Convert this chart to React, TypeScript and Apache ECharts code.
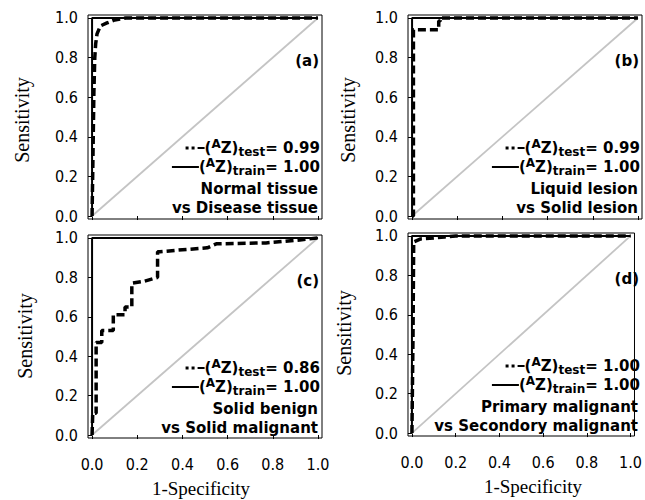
import React, { useEffect, useRef } from "react";
import * as echarts from "echarts";

// ---- data ----
const AXIS_TICKS = [0, 0.2, 0.4, 0.6, 0.8, 1.0];
const DIAG_FPR = [0, 1];
const DIAG_TPR = [0, 1];
const TRAIN_FPR = [0, 0, 1];
const TRAIN_TPR = [0, 1, 1];

const TEST_FPR_A = [0, 0.004, 0.008, 0.012, 0.016, 0.022, 0.037, 0.066, 0.1, 0.15, 1.0];
const TEST_TPR_A = [0, 0.3, 0.62, 0.8, 0.87, 0.92, 0.96, 0.975, 0.99, 1.0, 1.0];

const TEST_FPR_B = [0, 0.006, 0.006, 0.118, 0.118, 0.125, 0.125, 1.0];
const TEST_TPR_B = [0, 0, 0.94, 0.94, 0.985, 0.985, 1.0, 1.0];

const TEST_FPR_C = [0, 0.003, 0.003, 0.018, 0.018, 0.043, 0.043, 0.094, 0.094, 0.146, 0.146, 0.176, 0.176, 0.23, 0.29, 0.29, 0.3, 0.4, 0.51, 0.55, 0.77, 0.92, 1.0];
const TEST_TPR_C = [0, 0, 0.11, 0.11, 0.47, 0.47, 0.53, 0.53, 0.61, 0.61, 0.65, 0.65, 0.77, 0.78, 0.8, 0.93, 0.93, 0.94, 0.95, 0.97, 0.975, 0.99, 1.0];

const TEST_FPR_D = [0, 0.005, 0.008, 0.04, 0.1, 0.15, 0.2, 1.0];
const TEST_TPR_D = [0, 0.5, 0.97, 0.985, 0.99, 0.995, 1.0, 1.0];

const TEST_FPR = [TEST_FPR_A, TEST_FPR_B, TEST_FPR_C, TEST_FPR_D];
const TEST_TPR = [TEST_TPR_A, TEST_TPR_B, TEST_TPR_C, TEST_TPR_D];

const PANEL_LABELS = ["(a)", "(b)", "(c)", "(d)"];
const AZ_TEST = ["0.99", "0.99", "0.86", "1.00"];
const AZ_TRAIN = ["1.00", "1.00", "1.00", "1.00"];
const CLASS_LINE1 = ["Normal tissue", "Liquid lesion", "Solid benign", "Primary malignant"];
const CLASS_LINE2 = ["vs Disease tissue", "vs Solid lesion", "vs Solid malignant", "vs Secondory malignant"];
const X_TITLE = "1-Specificity";
const Y_TITLE = "Sensitivity";

// ---- layout ----
const GRIDS = [
  { left: 88, top: 15, width: 234, height: 204 },
  { left: 408, top: 15, width: 234, height: 204 },
  { left: 88, top: 235, width: 234, height: 203 },
  { left: 408, top: 233, width: 234, height: 203 },
];
const Y_TITLE_POS = [
  [22, 120],
  [348, 120],
  [25, 336],
  [344, 333],
];
const X_TITLE_POS = [
  [201, 488],
  [533, 486],
];

const TICK_FONT = "'Liberation Sans Narrow', 'DejaVu Sans Condensed', 'Roboto Condensed', sans-serif";
const SERIF = "'Liberation Serif', 'DejaVu Serif', serif";
const BOLD_FONT = "'DejaVu Sans', 'Liberation Sans', sans-serif";

const pairs = (xs: number[], ys: number[]) => xs.map((x, i) => [x, ys[i]]);

const richStyles = {
  n: { fontSize: 15, fontWeight: "bold", fontFamily: BOLD_FONT, fill: "#000", lineHeight: 20, verticalAlign: "middle" },
  a: { fontSize: 12, fontWeight: "bold", fontFamily: BOLD_FONT, fill: "#000", lineHeight: 13, verticalAlign: "top" },
  s: { fontSize: 12, fontWeight: "bold", fontFamily: BOLD_FONT, fill: "#000", lineHeight: 13, verticalAlign: "bottom" },
  dot: { width: 3, height: 3, backgroundColor: "#000", verticalAlign: "middle", fontSize: 1, lineHeight: 3 },
  gap: { width: 3, height: 3, fontSize: 1, lineHeight: 3, verticalAlign: "middle" },
  ls: { width: 7, height: 2, backgroundColor: "#000", verticalAlign: "middle", fontSize: 1, lineHeight: 2 },
  ll: { width: 27, height: 2, backgroundColor: "#000", verticalAlign: "middle", fontSize: 1, lineHeight: 2 },
};

export default function App() {
  const ref = useRef<HTMLDivElement>(null);
  useEffect(() => {
    if (!ref.current) return;
    const chart = echarts.init(ref.current, undefined, { renderer: "svg" });

    const grid = GRIDS.map((g) => ({
      ...g,
      show: true,
      borderColor: "#000",
      borderWidth: 1,
      backgroundColor: "transparent",
      containLabel: false,
    }));

    const xAxis = GRIDS.map((_, i) => ({
      type: "value",
      gridIndex: i,
      min: -0.018,
      max: 1.018,
      axisLine: { show: false },
      splitLine: { show: false },
      axisTick: { show: true, customValues: AXIS_TICKS, length: 4, lineStyle: { color: "#000", width: 1 } },
      axisLabel: {
        show: i >= 2,
        customValues: AXIS_TICKS,
        formatter: (v: number) => v.toFixed(1),
        margin: 18,
        fontFamily: TICK_FONT,
        fontSize: 16,
        color: "#000",
      },
    }));

    const yAxis = GRIDS.map((_, i) => ({
      type: "value",
      gridIndex: i,
      min: -0.015,
      max: 1.015,
      axisLine: { show: false },
      splitLine: { show: false },
      axisTick: { show: true, customValues: AXIS_TICKS, length: 4, lineStyle: { color: "#000", width: 1 } },
      axisLabel: {
        show: true,
        customValues: AXIS_TICKS,
        formatter: (v: number) => v.toFixed(1),
        margin: 10,
        fontFamily: TICK_FONT,
        fontSize: 16,
        color: "#000",
      },
    }));

    const series: any[] = [];
    GRIDS.forEach((_, i) => {
      series.push({
        type: "line",
        xAxisIndex: i,
        yAxisIndex: i,
        data: pairs(DIAG_FPR, DIAG_TPR),
        symbol: "none",
        lineStyle: { color: "#c4c4c4", width: 1.8 },
        z: 2,
      });
      series.push({
        type: "line",
        xAxisIndex: i,
        yAxisIndex: i,
        data: pairs(TRAIN_FPR, TRAIN_TPR),
        symbol: "none",
        lineStyle: { color: "#000", width: 2 },
        z: 3,
      });
      series.push({
        type: "line",
        xAxisIndex: i,
        yAxisIndex: i,
        data: pairs(TEST_FPR[i], TEST_TPR[i]),
        symbol: "none",
        lineStyle: { color: "#000", width: 3.5, type: [8, 4], cap: "butt" },
        z: 4,
      });
    });

    const graphic: any[] = [];
    GRIDS.forEach((g, i) => {
      const rx = g.left + g.width - 3;
      graphic.push({
        type: "text",
        x: rx,
        y: g.top + 46,
        style: { text: PANEL_LABELS[i], align: "right", verticalAlign: "middle", fontSize: 15, fontWeight: "bold", fontFamily: BOLD_FONT, fill: "#000" },
      });
      graphic.push({
        type: "text",
        x: rx + 1,
        y: g.top + 133,
        style: {
          text: `{dot| }{gap| }{dot| }{gap| }{ls| }{n|(}{a|A}{n|Z)}{s|test}{n|= ${AZ_TEST[i]}}`,
          align: "right",
          verticalAlign: "middle",
          rich: richStyles,
        },
      });
      graphic.push({
        type: "text",
        x: rx + 1,
        y: g.top + 152,
        style: {
          text: `{ll| }{n|(}{a|A}{n|Z)}{s|train}{n|= ${AZ_TRAIN[i]}}`,
          align: "right",
          verticalAlign: "middle",
          rich: richStyles,
        },
      });
      graphic.push({
        type: "text",
        x: rx - 1,
        y: g.top + 174,
        style: { text: CLASS_LINE1[i], align: "right", verticalAlign: "middle", fontSize: 15, fontWeight: "bold", fontFamily: BOLD_FONT, fill: "#000" },
      });
      graphic.push({
        type: "text",
        x: rx - 1,
        y: g.top + 193,
        style: { text: CLASS_LINE2[i], align: "right", verticalAlign: "middle", fontSize: 15, fontWeight: "bold", fontFamily: BOLD_FONT, fill: "#000" },
      });
      graphic.push({
        type: "text",
        x: Y_TITLE_POS[i][0],
        y: Y_TITLE_POS[i][1],
        rotation: Math.PI / 2,
        style: { text: Y_TITLE, align: "center", verticalAlign: "middle", fontSize: 20, fontFamily: SERIF, fill: "#000" },
      });
    });
    X_TITLE_POS.forEach((p) => {
      graphic.push({
        type: "text",
        x: p[0],
        y: p[1],
        style: { text: X_TITLE, align: "center", verticalAlign: "middle", fontSize: 19, fontFamily: SERIF, fill: "#000" },
      });
    });

    chart.setOption({
      animation: false,
      backgroundColor: "#fff",
      grid,
      xAxis,
      yAxis,
      series,
      graphic,
    });
    return () => chart.dispose();
  }, []);

  return <div ref={ref} style={{ position: "absolute", left: 0, top: 0, width: 645, height: 500 }} />;
}
